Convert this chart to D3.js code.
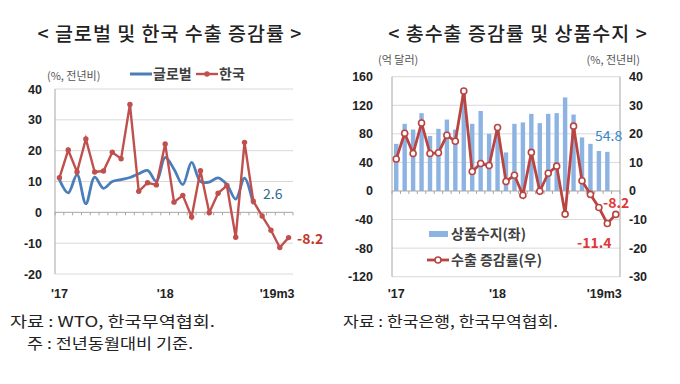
<!DOCTYPE html>
<html>
<head>
<meta charset="utf-8">
<script src="https://cdn.jsdelivr.net/npm/d3@7"></script>
<style>
body { margin: 0; background: #fff; }
svg { display: block; }
text { font-family: "Noto Sans CJK KR", "Noto Sans", sans-serif; }
.num { font-family: "Liberation Sans", Arial, sans-serif; font-weight: bold; font-size: 12.5px; fill: #222; }
.src { font-size: 15px; fill: #222; }
</style>
</head>
<body>
<svg id="chart" width="680" height="384"></svg>
<script>
// months Jan 2017 ~ Mar 2019
var months = ["17.01","17.02","17.03","17.04","17.05","17.06","17.07","17.08","17.09","17.10","17.11","17.12",
              "18.01","18.02","18.03","18.04","18.05","18.06","18.07","18.08","18.09","18.10","18.11","18.12",
              "19.01","19.02","19.03"];

// global export growth (%), ends Nov 2018
var globalGrowth = [10.6, 6.3, 12.2, 2.8, 11.4, 7.8, 10.0, 10.6, 11.3, 12.5, 13.6, 10.0,
                    17.8, 14.0, 9.0, 16.2, 10.0, 9.8, 11.2, 9.0, 4.3, 11.1, 2.6];

// korea export growth (%)
var koreaGrowth = [11.2, 20.2, 13.1, 23.8, 13.1, 13.4, 19.5, 17.4, 35.0, 6.8, 9.6, 8.9,
                   22.2, 3.3, 5.5, -1.5, 13.5, -0.1, 6.2, 8.7, -8.1, 22.7, 3.6, -1.2,
                   -5.8, -11.4, -8.2];

// goods balance (억 달러), ends Feb 2019
var goodsBalance = [66, 94, 86, 109, 77, 87, 100, 86, 138, 94, 112, 80,
                    84, 54, 94, 96, 108, 95, 108, 109, 131, 107, 75, 66,
                    56, 54.8];

var xTickMonths = ["17.01", "18.01", "19.03"];
var xTickLabels = ["'17", "'18", "'19m3"];

var leftTicks = [-20, -10, 0, 10, 20, 30, 40];
var balTicks = [-120, -80, -40, 0, 40, 80, 120, 160];
var rateTicks = [-30, -20, -10, 0, 10, 20, 30, 40];

var blue = "#4a7ebb";
var red = "#c0504d";
var red2 = "#b94441";
var barColor = "#8db3e2";
var gridColor = "#d9d9d9";
var axisColor = "#a6a6a6";

var svg = d3.select("#chart");

// titles
svg.append("text").attr("x", 170).attr("y", 41).attr("text-anchor", "middle")
    .style("font-size", "19.5px").style("font-weight", "500").style("letter-spacing", "1px").attr("fill", "#222")
    .text("< 글로벌 및 한국 수출 증감률 >");
svg.append("text").attr("x", 518).attr("y", 41).attr("text-anchor", "middle")
    .style("font-size", "19.5px").style("font-weight", "500").style("letter-spacing", "1px").attr("fill", "#222")
    .text("< 총수출 증감률 및 상품수지 >");

function drawZeroTicks(g, x, y0)
{
    var bw = x.bandwidth();
    g.selectAll("line.tk").data(months.concat(["end"])).enter().append("line")
        .attr("class", "tk")
        .attr("x1", function(d, i){ return x.range()[0] + i * bw; })
        .attr("x2", function(d, i){ return x.range()[0] + i * bw; })
        .attr("y1", y0).attr("y2", y0 + 3)
        .attr("stroke", axisColor).attr("stroke-width", 1);
}

function drawXLabels(g, x, y)
{
    xTickMonths.forEach(function(m, i){
        var last = i == xTickMonths.length - 1;
        g.append("text").attr("class", "num")
            .attr("x", last ? x(m) + x.bandwidth() / 2 + 6 : x(m) + x.bandwidth() / 2)
            .attr("y", y)
            .attr("text-anchor", last ? "end" : "middle")
            .text(xTickLabels[i]);
    });
}

// ---------------- left chart ----------------
var lx = d3.scaleBand().domain(months).range([55, 293]);
var ly = d3.scaleLinear().domain([-20, 40]).range([274, 89]);
var left = svg.append("g");

left.selectAll("line.grid").data(leftTicks.filter(function(d){ return d != 0; })).enter().append("line")
    .attr("x1", 55).attr("x2", 293)
    .attr("y1", function(d){ return ly(d); }).attr("y2", function(d){ return ly(d); })
    .attr("stroke", gridColor);
left.append("line").attr("x1", 55).attr("x2", 293).attr("y1", ly(0)).attr("y2", ly(0))
    .attr("stroke", axisColor);
drawZeroTicks(left, lx, ly(0));
left.append("line").attr("x1", 55).attr("x2", 55).attr("y1", ly(40)).attr("y2", ly(-20))
    .attr("stroke", axisColor);

left.selectAll("text.yt").data(leftTicks).enter().append("text")
    .attr("class", "num").attr("x", 42).attr("y", function(d){ return ly(d); })
    .attr("dy", "0.36em").attr("text-anchor", "end")
    .text(function(d){ return d; });
drawXLabels(left, lx, 298);

var lcx = function(d, i){ return lx(months[i]) + lx.bandwidth() / 2; };

left.append("path").datum(globalGrowth)
    .attr("fill", "none").attr("stroke", blue).attr("stroke-width", 2.8)
    .attr("d", d3.line().x(lcx).y(function(d){ return ly(d); }).curve(d3.curveCatmullRom.alpha(0.5)));

left.append("path").datum(koreaGrowth)
    .attr("fill", "none").attr("stroke", red).attr("stroke-width", 2.4)
    .attr("d", d3.line().x(lcx).y(function(d){ return ly(d); }));
left.selectAll("circle.k").data(koreaGrowth).enter().append("circle")
    .attr("cx", lcx).attr("cy", function(d){ return ly(d); }).attr("r", 2.7)
    .attr("fill", red);

// left legend and labels
left.append("text").attr("x", 47).attr("y", 80).style("font-size", "11px").attr("fill", "#555")
    .text("(%, 전년비)");
left.append("line").attr("x1", 130).attr("x2", 152).attr("y1", 74).attr("y2", 74)
    .attr("stroke", blue).attr("stroke-width", 3);
left.append("text").attr("x", 153).attr("y", 79).style("font-size", "14px").style("font-weight", "bold")
    .attr("fill", "#404040").text("글로벌");
left.append("line").attr("x1", 196).attr("x2", 218).attr("y1", 74).attr("y2", 74)
    .attr("stroke", red).attr("stroke-width", 2.4);
left.append("circle").attr("cx", 207).attr("cy", 74).attr("r", 2.7).attr("fill", red);
left.append("text").attr("x", 219).attr("y", 79).style("font-size", "14px").style("font-weight", "bold")
    .attr("fill", "#404040").text("한국");

left.append("text").attr("x", 263).attr("y", ly(globalGrowth[globalGrowth.length - 1]) - 5)
    .style("font-size", "14px").attr("fill", "#2f6a8c").text(globalGrowth[globalGrowth.length - 1]);
left.append("text").attr("x", 297).attr("y", ly(koreaGrowth[koreaGrowth.length - 1]) + 6)
    .style("font-size", "14px").style("font-weight", "bold").attr("fill", "#c0392b")
    .text(koreaGrowth[koreaGrowth.length - 1]);

// ---------------- right chart ----------------
var rx = d3.scaleBand().domain(months).range([392, 620]);
var by = d3.scaleLinear().domain([-120, 160]).range([276.7, 76.7]);
var ry = d3.scaleLinear().domain([-30, 40]).range([276.7, 76.7]);
var right = svg.append("g");

right.selectAll("line.grid").data(balTicks.filter(function(d){ return d != 0; })).enter().append("line")
    .attr("x1", 392).attr("x2", 620)
    .attr("y1", function(d){ return by(d); }).attr("y2", function(d){ return by(d); })
    .attr("stroke", gridColor);

right.selectAll("rect.bar").data(goodsBalance).enter().append("rect")
    .attr("x", function(d, i){ return rx(months[i]) + rx.bandwidth() * 0.24; })
    .attr("width", rx.bandwidth() * 0.52)
    .attr("y", function(d){ return by(Math.max(0, d)); })
    .attr("height", function(d){ return Math.abs(by(d) - by(0)); })
    .attr("fill", barColor);

right.append("line").attr("x1", 392).attr("x2", 620).attr("y1", by(0)).attr("y2", by(0))
    .attr("stroke", axisColor);
drawZeroTicks(right, rx, by(0));
right.append("line").attr("x1", 392).attr("x2", 392).attr("y1", by(160)).attr("y2", by(-120))
    .attr("stroke", axisColor);
right.append("line").attr("x1", 620).attr("x2", 620).attr("y1", by(160)).attr("y2", by(-120))
    .attr("stroke", axisColor);

right.selectAll("text.yl").data(balTicks).enter().append("text")
    .attr("class", "num").attr("x", 373).attr("y", function(d){ return by(d); })
    .attr("dy", "0.36em").attr("text-anchor", "end")
    .text(function(d){ return d; });
right.selectAll("text.yr").data(rateTicks).enter().append("text")
    .attr("class", "num").attr("x", 629).attr("y", function(d){ return ry(d); })
    .attr("dy", "0.36em").attr("text-anchor", "start")
    .text(function(d){ return d; });
drawXLabels(right, rx, 298);

var rcx = function(d, i){ return rx(months[i]) + rx.bandwidth() / 2; };
right.append("path").datum(koreaGrowth)
    .attr("fill", "none").attr("stroke", red2).attr("stroke-width", 2.8)
    .attr("d", d3.line().x(rcx).y(function(d){ return ry(d); }));
right.selectAll("circle.k").data(koreaGrowth).enter().append("circle")
    .attr("cx", rcx).attr("cy", function(d){ return ry(d); }).attr("r", 3)
    .attr("fill", "#fff").attr("stroke", red2).attr("stroke-width", 1.6);

right.append("text").attr("x", 378).attr("y", 64).style("font-size", "11px").attr("fill", "#555")
    .text("(억 달러)");
right.append("text").attr("x", 640).attr("y", 64).attr("text-anchor", "end")
    .style("font-size", "11px").attr("fill", "#555").text("(%, 전년비)");

right.append("text").attr("x", 595).attr("y", by(goodsBalance[goodsBalance.length - 1]) - 11)
    .style("font-size", "14px").attr("fill", "#3a86c8").text(goodsBalance[goodsBalance.length - 1]);
right.append("text").attr("x", 603).attr("y", ry(-8.2) - 6)
    .style("font-size", "14px").style("font-weight", "bold").attr("fill", "#e0373a").text("-8.2");
right.append("text").attr("x", 577).attr("y", ry(-11.4) + 24)
    .style("font-size", "14px").style("font-weight", "bold").attr("fill", "#e0373a").text("-11.4");

// right legend
right.append("rect").attr("x", 429).attr("y", 231).attr("width", 19).attr("height", 6).attr("fill", barColor);
right.append("text").attr("x", 451).attr("y", 239).style("font-size", "14px").style("font-weight", "bold")
    .attr("fill", "#404040").text("상품수지(좌)");
right.append("line").attr("x1", 427).attr("x2", 449).attr("y1", 260).attr("y2", 260)
    .attr("stroke", red2).attr("stroke-width", 2.8);
right.append("circle").attr("cx", 438).attr("cy", 260).attr("r", 3)
    .attr("fill", "#fff").attr("stroke", red2).attr("stroke-width", 1.6);
right.append("text").attr("x", 451).attr("y", 265).style("font-size", "14px").style("font-weight", "bold")
    .attr("fill", "#404040").text("수출 증감률(우)");

// sources (stretched a little, like the original)
function srcLine(str, x, y, len)
{
    svg.append("text").attr("class", "src").attr("x", x).attr("y", y)
        .attr("textLength", len).attr("lengthAdjust", "spacingAndGlyphs")
        .text(str);
}
srcLine("자료 : WTO, 한국무역협회.", 10, 327, 205);
srcLine("주 : 전년동월대비 기준.", 27, 349, 166);
srcLine("자료 : 한국은행, 한국무역협회.", 343, 327, 215);
</script>
</body>
</html>
